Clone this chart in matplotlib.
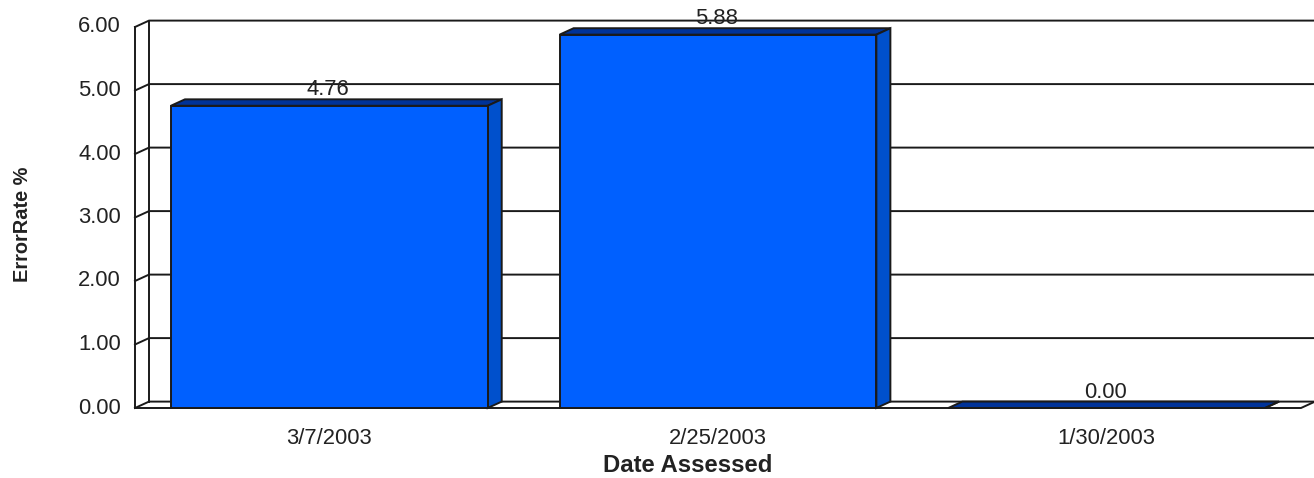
#!/usr/bin/env python3
# -*- coding: utf-8 -*-
import matplotlib
matplotlib.use('Agg')
import matplotlib.pyplot as plt
from matplotlib.transforms import ScaledTranslation

plt.rcParams['font.family'] = ['Liberation Sans', 'DejaVu Sans']

## data
dates = ['3/7/2003', '2/25/2003', '1/30/2003']
error_rate = [4.76, 5.88, 0.00]
yticks = [0, 1, 2, 3, 4, 5, 6]

W, H = 1314, 478
LEFT, RIGHT, BOTTOM, TOP = 135, 1301, 408, 27
DX, DY = 14, 6.4      # depth of the fake 3d box, pixels
BAR_W = 0.815

FRONT = '#0060ff'
SIDE = '#0050cc'
ROOF = '#003399'
LINE = '#1a1a1a'
TXT = '#222222'
FS = 15.8

fig = plt.figure(figsize=(W / 100, H / 100), dpi=100)
ax = fig.add_axes([LEFT / W, 1 - BOTTOM / H, (RIGHT - LEFT) / W, (BOTTOM - TOP) / H])
ax.set_xlim(0, 3)
ax.set_ylim(0, 6)
ax.patch.set_visible(False)
for s in ax.spines.values():
    s.set_visible(False)

# depth offsets in data units
dx = DX * 3 / (RIGHT - LEFT)
dy = DY * 6 / (BOTTOM - TOP)
xs = [i + 0.5 for i in range(len(dates))]
lw = 1.4

## walls and grid
for t in yticks:
    ax.plot([0, dx, 3 + dx], [t, t + dy, t + dy], color=LINE, lw=lw, clip_on=False, zorder=1,
            solid_joinstyle='miter')
ax.plot([0, 0], [0, 6], color=LINE, lw=lw, clip_on=False, zorder=2)
ax.plot([dx, dx], [dy, 6 + dy], color=LINE, lw=lw, clip_on=False, zorder=2)
# floor outline
ax.plot([0, 3, 3 + dx], [0, 0, dy], color=LINE, lw=lw, clip_on=False, zorder=2)

## bars
ax.bar(xs, error_rate, width=BAR_W, color=FRONT, edgecolor=LINE, linewidth=lw, zorder=4, clip_on=False)
for x, v in zip(xs, error_rate):
    x0, x1 = x - BAR_W / 2, x + BAR_W / 2
    ax.fill([x0, x0 + dx, x1 + dx, x1], [v, v + dy, v + dy, v], facecolor=ROOF,
            edgecolor=LINE, lw=lw, zorder=3, clip_on=False)
    ax.fill([x1, x1 + dx, x1 + dx, x1], [0, dy, v + dy, v], facecolor=SIDE,
            edgecolor=LINE, lw=lw, zorder=3, clip_on=False)
    ax.annotate('%.2f' % v, (x, v + dy), xytext=(-1, 4), textcoords='offset pixels', ha='center',
                va='baseline', fontsize=FS, color=TXT, zorder=6, annotation_clip=False)

## ticks and labels
ax.set_xticks(xs)
ax.set_xticklabels(dates, fontsize=FS, color=TXT)
ax.set_yticks(yticks)
ax.set_yticklabels(['%.2f' % t for t in yticks], fontsize=FS, color=TXT)
ax.tick_params(axis='x', length=0, pad=14.5)
ax.tick_params(axis='y', length=0, pad=10)
# y labels sit a little above their gridline stubs
up = ScaledTranslation(0, 2.5 / 100, fig.dpi_scale_trans)
for lab in ax.get_yticklabels():
    lab.set_transform(lab.get_transform() + up)
fig.text(688 / W, 1 - 465 / H, 'Date Assessed', fontsize=17.2, fontweight='bold', color=TXT,
         ha='center', va='center')
fig.text(23 / W, 1 - 224 / H, 'ErrorRate %', fontsize=14.4, fontweight='bold', color=TXT,
         ha='center', va='center', rotation=90)

fig.savefig('out.png', dpi=100)
